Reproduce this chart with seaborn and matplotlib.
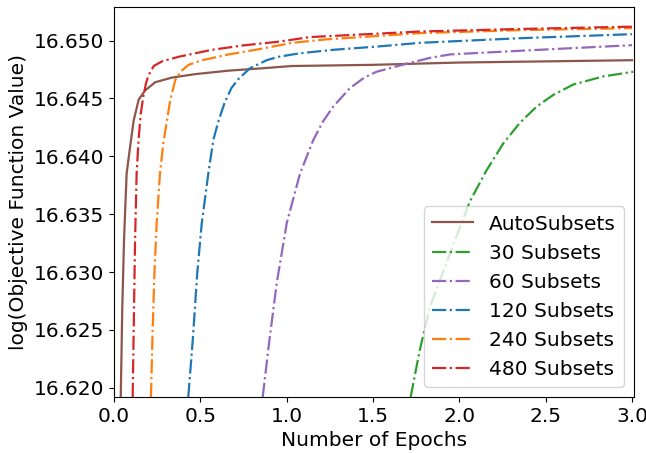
import seaborn as sns
import matplotlib.pyplot as plt
import pandas as pd

# Values
auto_x = [0.039, 0.048, 0.058, 0.073, 0.093, 0.114, 0.143, 0.181, 0.239, 0.336, 0.471, 0.664, 0.857,
          1.03, 1.5, 2.0, 2.5, 3.0]
auto_y = [16.6192, 16.6270, 16.6328, 16.6385, 16.6408, 16.6431, 16.6449, 16.6457, 16.6464, 16.6468,
          16.6471, 16.6474, 16.6476, 16.6478, 16.6479, 16.6481, 16.6482, 16.6483]

s30_x = [1.718, 1.77, 1.83, 1.946, 2.061, 2.158, 2.254, 2.351, 2.448, 2.544, 2.66, 2.833, 3.007]
s30_y = [16.6192, 16.6232, 16.6270, 16.6316, 16.6361, 16.6388, 16.6411, 16.6429, 16.6443, 16.6453,
         16.6462, 16.6469, 16.6473]

s60_x = [0.861, 0.9, 0.942, 1.0, 1.077, 1.154, 1.21, 1.27, 1.367, 1.45, 1.52, 1.62, 1.695, 1.83,
         1.946, 2.33, 3.0]
s60_y = [16.6192, 16.6241, 16.6290, 16.6342, 16.6385, 16.6414, 16.6430, 16.6443, 16.6459, 16.6468,
         16.6473, 16.6477, 16.6480, 16.6485, 16.6488, 16.6491, 16.6496]

s120_x = [0.430, 0.456, 0.482, 0.508, 0.546, 0.575, 0.606, 0.64, 0.68, 0.722, 0.787, 0.884, 0.954,
          1.077, 1.27, 1.54, 1.77, 2.35, 3.0]
s120_y = [16.6192, 16.6241, 16.6299, 16.6342, 16.6385, 16.6414, 16.6431, 16.6446, 16.6459, 16.6467,
          16.6476, 16.6483, 16.6486, 16.6489, 16.6492, 16.6495, 16.6498, 16.6502, 16.65055]

s240_x = [0.214, 0.222, 0.234, 0.247, 0.266, 0.286, 0.307, 0.326, 0.355, 0.384, 0.432, 0.51, 0.664,
          0.857, 1.03, 1.23, 1.77, 2.35, 3.0]
s240_y = [16.6192, 16.6241, 16.6299, 16.6342, 16.6385, 16.6412, 16.6431, 16.6449, 16.6466, 16.6473,
          16.6479, 16.6483, 16.6488, 16.6493, 16.6498, 16.6501, 16.65064, 16.6509, 16.65107]

s480_x = [0.108, 0.116, 0.122, 0.131, 0.142, 0.155, 0.17, 0.185, 0.20, 0.23, 0.278, 0.375, 0.567,
          0.76, 0.954, 1.135, 1.77, 2.35, 3.0]
s480_y = [16.6192, 16.6270, 16.6328, 16.6385, 16.6414, 16.6437, 16.6452, 16.6463, 16.6470, 16.6478,
          16.6482, 16.6486, 16.6492, 16.6496, 16.6499, 16.6503, 16.65078, 16.6510, 16.6512]

series = [
    ("AutoSubsets", auto_x, auto_y, "#8c564b", "-"),
    ("30 Subsets", s30_x, s30_y, "#2ca02c", "-."),
    ("60 Subsets", s60_x, s60_y, "#9467bd", "-."),
    ("120 Subsets", s120_x, s120_y, "#1f77b4", "-."),
    ("240 Subsets", s240_x, s240_y, "#ff7f0e", "-."),
    ("480 Subsets", s480_x, s480_y, "#d62728", "-."),
]

fig = plt.figure(figsize=(6.46, 4.53), dpi=100)
ax = fig.add_axes([0.1765, 0.1236, 0.8045, 0.861])

for name, xs, ys, color, ls in series:
    df = pd.DataFrame({"epochs": xs, "value": ys})
    sns.lineplot(data=df, x="epochs", y="value", ax=ax, color=color,
                 linestyle=ls, linewidth=1.6, label=name, sort=False)

ax.set_xlim(0, 3.01)
ax.set_ylim(16.6192, 16.6529)
ax.set_yticks([16.620, 16.625, 16.630, 16.635, 16.640, 16.645, 16.650])
ax.set_yticklabels(["16.620", "16.625", "16.630", "16.635", "16.640", "16.645", "16.650"])
ax.set_xticks([0.0, 0.5, 1.0, 1.5, 2.0, 2.5, 3.0])
ax.tick_params(labelsize=14.5)
ax.set_xlabel("Number of Epochs", fontsize=14.5)
ax.set_ylabel("log(Objective Function Value)", fontsize=14.5)
ax.legend(loc="lower right", fontsize=14.5)

fig.savefig("out.png", dpi=100)
